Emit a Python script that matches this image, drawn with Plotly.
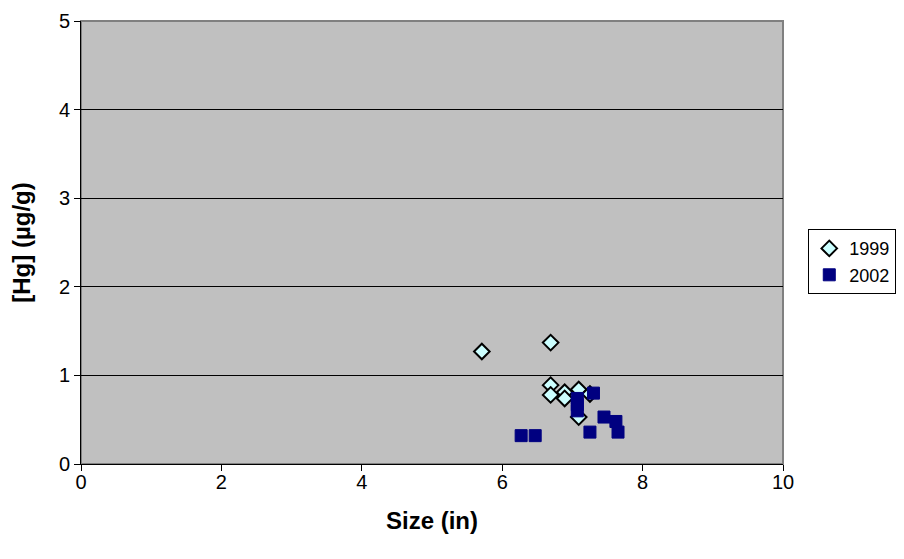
import plotly.graph_objects as go

x1999 = [5.71, 6.69, 6.69, 6.69, 6.89, 6.89, 7.09, 7.09, 7.25]
y1999 = [1.27, 1.37, 0.89, 0.78, 0.81, 0.74, 0.84, 0.53, 0.79]
x2002 = [6.27, 6.47, 7.07, 7.07, 7.07, 7.30, 7.45, 7.25, 7.62, 7.65]
y2002 = [0.32, 0.32, 0.74, 0.67, 0.60, 0.80, 0.53, 0.36, 0.48, 0.36]

fig = go.Figure()
fig.add_trace(go.Scatter(x=x1999, y=y1999, mode="markers", name="1999",
                         marker=dict(symbol="diamond", size=12, color="#CCFFFF",
                                     line=dict(color="black", width=2))))
fig.add_trace(go.Scatter(x=x2002, y=y2002, mode="markers", name="2002", xaxis="x2",
                         marker=dict(symbol="square", size=12, color="#000080",
                                     line=dict(color="#000080", width=1))))

fig.update_layout(
    width=904, height=559,
    margin=dict(l=73, r=129, t=13, b=103),
    paper_bgcolor="white", plot_bgcolor="#C0C0C0",
    font=dict(family="Liberation Sans, Arial", size=20, color="black"),
    xaxis=dict(range=[0, 10], dtick=2, showgrid=False, zeroline=False,
               showline=True, linecolor="black", linewidth=1, mirror=False,
               ticks="", automargin=False,
               title=dict(text="<b>Size (in)</b>", font=dict(size=24), standoff=20)),
    xaxis2=dict(range=[0, 10], dtick=2, matches="x", overlaying="x", side="bottom",
                anchor="y", showgrid=False, zeroline=False, showline=False,
                showticklabels=False, ticks="outside", ticklen=6, tickcolor="black",
                automargin=False),
    yaxis=dict(range=[0, 5], dtick=1, showgrid=True, gridcolor="black", gridwidth=1,
               zeroline=False, showline=True, linecolor="black", linewidth=1,
               ticks="outside", ticklen=6, tickcolor="black", automargin=False,
               title=dict(text="<b>[Hg] (µg/g)</b>", font=dict(size=24), standoff=24)),
    legend=dict(x=1.036, y=0.53, xanchor="left", yanchor="top",
                bordercolor="black", borderwidth=1, bgcolor="white",
                font=dict(size=18), tracegroupgap=0, itemwidth=30),
    showlegend=True,
)
fig.add_shape(type="rect", xref="paper", yref="paper", x0=0, y0=0, x1=1, y1=1,
              line=dict(color="#808080", width=2), layer="below")

fig.write_html("out.html")
